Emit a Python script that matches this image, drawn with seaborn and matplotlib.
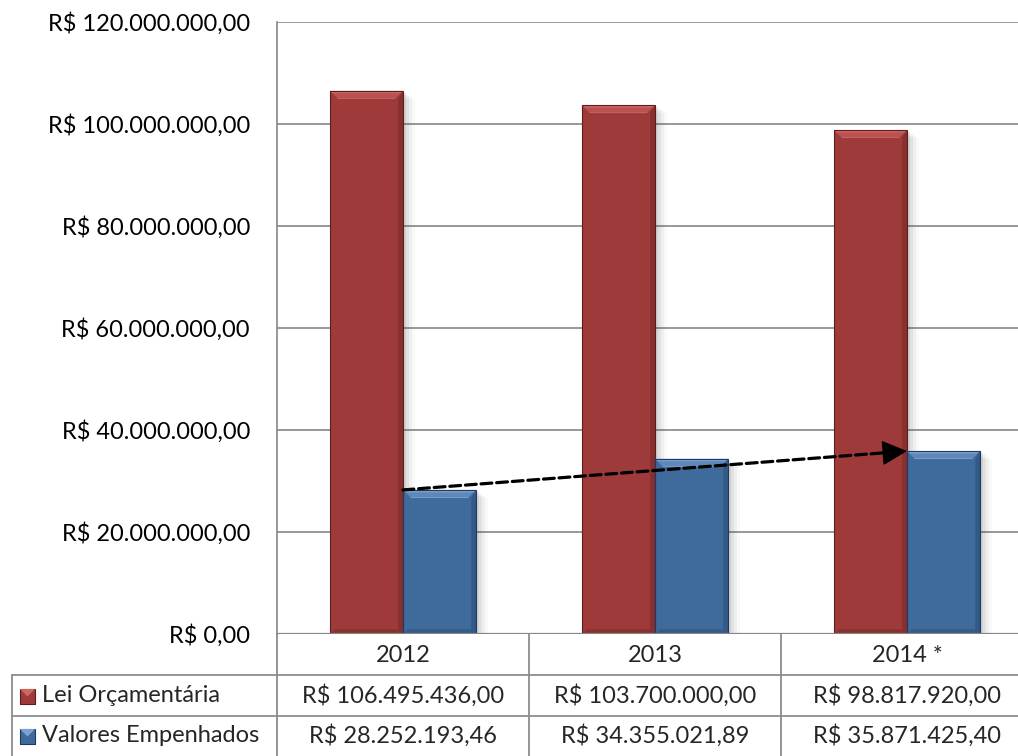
import numpy as np
import pandas as pd
import matplotlib
matplotlib.use("Agg")
import matplotlib.pyplot as plt
import seaborn as sns
from matplotlib.patches import Polygon, Rectangle
from matplotlib.transforms import blended_transform_factory

# ---- data ----
years = ["2012", "2013", "2014 *"]
series_names = ["Lei Orçamentária", "Valores Empenhados"]
lei = [106495436.00, 103700000.00, 98817920.00]
empenhados = [28252193.46, 34355021.89, 35871425.40]
lei_labels = ["R$ 106.495.436,00", "R$ 103.700.000,00", "R$ 98.817.920,00"]
emp_labels = ["R$ 28.252.193,46", "R$ 34.355.021,89", "R$ 35.871.425,40"]
yticks = [0, 20e6, 40e6, 60e6, 80e6, 100e6, 120e6]
ytick_labels = ["R$ 0,00", "R$ 20.000.000,00", "R$ 40.000.000,00", "R$ 60.000.000,00",
                "R$ 80.000.000,00", "R$ 100.000.000,00", "R$ 120.000.000,00"]

colors = ["#9E3B3A", "#3F6A9C"]
light = ["#CF6664", "#7BA2D2"]
dark = ["#5E1C1B", "#1F3A5E"]

df = pd.DataFrame({
    "Ano": years * 2,
    "Serie": [series_names[0]] * 3 + [series_names[1]] * 3,
    "Valor": lei + empenhados,
})

sns.set_theme(style="white")
plt.rcParams["font.family"] = ["Lato", "DejaVu Sans"]

W, H = 1018, 756
fig = plt.figure(figsize=(W / 100, H / 100), dpi=100)
ax_left, ax_right, ax_top, ax_bot = 277, 1033, 22, 634
ax = fig.add_axes([ax_left / W, (H - ax_bot) / H, (ax_right - ax_left) / W, (ax_bot - ax_top) / H])

sns.barplot(data=df, x="Ano", y="Valor", hue="Serie", palette=colors, width=0.58,
            gap=0, ax=ax, legend=False, saturation=1, edgecolor="none", linewidth=0, zorder=3)

fs = 17
ax.set_xlim(-0.5, 2.5)
ax.set_ylim(0, 120e6)
ax.set_yticks(yticks)
ax.set_yticklabels(ytick_labels, fontsize=fs, color="black")
ax.tick_params(axis="y", length=0, pad=19.5)
ax.set_xticks([])
ax.set_xlabel("")
ax.set_ylabel("")
for s in ["top", "right", "bottom"]:
    ax.spines[s].set_visible(False)
ax.spines["left"].set_color("#868686")
ax.spines["left"].set_linewidth(1.2)
ax.yaxis.grid(True, color="#868686", linewidth=1.2, zorder=0)
ax.set_axisbelow(True)
ax.axhline(0, color="#868686", linewidth=1.6, zorder=5)

# bevel decoration derived from the drawn bars
px_x = 3.0 / (ax_right - ax_left)   # data units per pixel (x)
px_y = 120e6 / (ax_bot - ax_top)    # data units per pixel (y)
bars = [p for p in ax.patches if isinstance(p, Rectangle) and p.get_height() > 0]
for p in bars:
    x0 = p.get_x(); w = p.get_width(); x1 = x0 + w; top = p.get_height()
    fc = matplotlib.colors.to_hex(p.get_facecolor())
    idx = 0 if fc.lower() == colors[0].lower() else 1
    # shadow
    for k, a in enumerate([0.10, 0.07, 0.05, 0.03]):
        off = (3 + 3 * k) * px_x
        ax.add_patch(Rectangle((x1, 0), off, top - (2 + k * 2) * px_y, facecolor="#404040",
                               alpha=a, edgecolor="none", zorder=2))
    d = 8 * px_x; h = 8 * px_y
    ax.add_patch(Polygon([(x0, top), (x1, top), (x1 - d, top - h), (x0 + d, top - h)],
                         closed=True, facecolor=light[idx], edgecolor="none", zorder=4))
    ax.add_patch(Polygon([(x0, top - h * 0.3), (x1, top - h * 0.3), (x1 - d * 0.7, top - h * 0.9),
                          (x0 + d * 0.7, top - h * 0.9)],
                         closed=True, facecolor=colors[idx], alpha=0.45, edgecolor="none", zorder=4))
    ax.add_patch(Polygon([(x1, top), (x1, 0), (x1 - d * 0.6, h * 0.6), (x1 - d * 0.6, top - h)],
                         closed=True, facecolor=dark[idx], alpha=0.35, edgecolor="none", zorder=4))
    ax.add_patch(Polygon([(x0, 0), (x1, 0), (x1 - d * 0.6, h * 0.6), (x0 + d * 0.6, h * 0.6)],
                         closed=True, facecolor=dark[idx], alpha=0.3, edgecolor="none", zorder=4))
    ax.add_patch(Rectangle((x0, 0), w, top, facecolor="none", edgecolor=dark[idx],
                           linewidth=0.8, zorder=4))

# arrow trend between blue bars: dashed shaft + solid head
x_start, x_end = 0, 2
y_start, y_end = empenhados[0], empenhados[2]
ax.annotate("", xy=(x_end, y_end), xytext=(x_start, y_start),
            arrowprops=dict(arrowstyle="-", color="black", lw=2.3,
                            linestyle=(0, (3.4, 1.5)), shrinkA=0, shrinkB=10),
            zorder=6)
t = 0.96
ax.annotate("", xy=(x_end, y_end),
            xytext=(x_start + t * (x_end - x_start), y_start + t * (y_end - y_start)),
            arrowprops=dict(arrowstyle="-|>,head_length=0.8,head_width=0.4", color="black",
                            lw=1.0, shrinkA=0, shrinkB=0, mutation_scale=20),
            zorder=6)

# ---- data table ----
trans = blended_transform_factory(ax.transData, fig.transFigure)
def fy(ypx):
    return 1 - ypx / H

grid_c = "#8c8c8c"
for yy in [675, 716]:
    fig.add_artist(plt.Line2D([12 / W, 1], [fy(yy), fy(yy)], color=grid_c, lw=1.3))
for xb in [-0.5, 0.5, 1.5]:
    fig.add_artist(plt.Line2D([xb, xb], [fy(634), fy(757)], color=grid_c, lw=1.3, transform=trans))
fig.add_artist(plt.Line2D([12 / W, 12 / W], [fy(675), fy(757)], color=grid_c, lw=1.3))

for i, yr in enumerate(years):
    fig.text(i, fy(655), yr, transform=trans, ha="center", va="center", fontsize=fs)
    fig.text(i, fy(696), lei_labels[i], transform=trans, ha="center", va="center", fontsize=fs)
    fig.text(i, fy(736), emp_labels[i], transform=trans, ha="center", va="center", fontsize=fs)

for j, (name, yc) in enumerate(zip(series_names, [696, 736])):
    sx, sy, ss = 20, yc - 7, 15
    fig.add_artist(Rectangle((sx / W, fy(sy + ss)), ss / W, ss / H, transform=fig.transFigure,
                             facecolor=colors[j], edgecolor=dark[j], lw=0.8))
    fig.add_artist(Polygon([(sx / W, fy(sy)), ((sx + ss) / W, fy(sy)),
                            ((sx + ss / 2) / W, fy(sy + ss / 2))], closed=True,
                           transform=fig.transFigure, facecolor=light[j], edgecolor="none"))
    fig.text(42 / W, fy(yc), name, ha="left", va="center", fontsize=fs)

fig.savefig("out.png", dpi=100)
